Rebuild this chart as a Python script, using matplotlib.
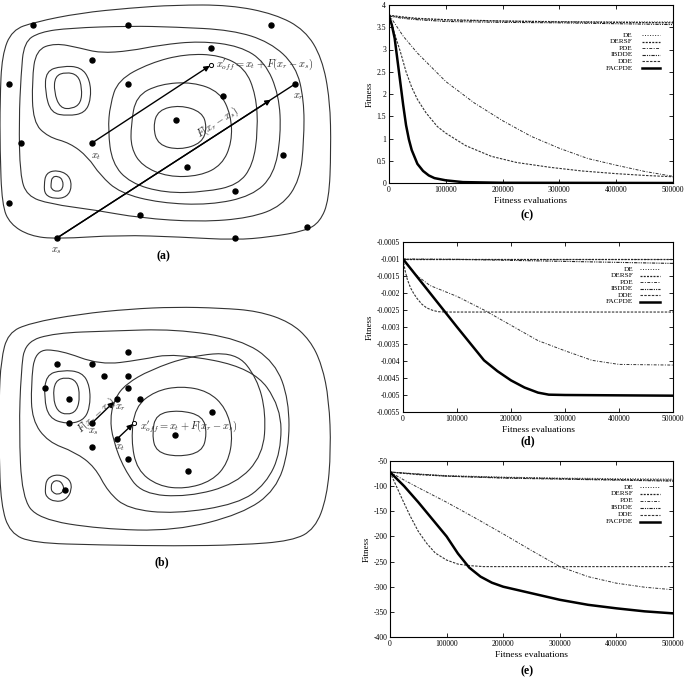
import numpy as np
import matplotlib
matplotlib.use('Agg')
import matplotlib.pyplot as plt
from matplotlib.path import Path
from matplotlib.patches import PathPatch

plt.rcParams['font.family'] = ['Liberation Serif', 'DejaVu Serif']
plt.rcParams['mathtext.fontset'] = 'cm'

# ---------------- chart data ----------------
legend_names = ['DE', 'DERSF', 'PDE', 'IBDDE', 'DDE', 'FACPDE']
x_ticks = [0, 100000, 200000, 300000, 400000, 500000]
x_ticklabels = ['0', '100000', '200000', '300000', '400000', '500000']

# (c)
c_yticks = [0, 0.5, 1, 1.5, 2, 2.5, 3, 3.5, 4]
c_yticklabels = ['0', '0.5', '1', '1.5', '2', '2.5', '3', '3.5', '4']
c_x_flat = [0, 25000, 50000, 100000, 200000, 300000, 400000, 500000]
c_de = [3.76, 3.72, 3.69, 3.66, 3.64, 3.63, 3.62, 3.62]
c_dersf = [3.77, 3.73, 3.70, 3.67, 3.64, 3.62, 3.61, 3.60]
c_ibdde = [3.75, 3.70, 3.67, 3.63, 3.61, 3.60, 3.58, 3.56]
c_x_pde = [0, 25000, 50000, 100000, 150000, 200000, 250000, 300000, 350000, 400000, 450000, 500000]
c_pde = [3.78, 3.30, 2.92, 2.28, 1.80, 1.40, 1.05, 0.78, 0.55, 0.40, 0.26, 0.15]
c_x_dde = [0, 10000, 20000, 30000, 40000, 50000, 65000, 85000, 100000, 135000, 180000,
           225000, 285000, 340000, 400000, 450000, 500000]
c_dde = [3.75, 3.35, 2.95, 2.50, 2.15, 1.88, 1.58, 1.27, 1.12, 0.84, 0.60,
         0.46, 0.35, 0.27, 0.21, 0.17, 0.14]
c_x_fac = [0, 5000, 10000, 15000, 20000, 25000, 30000, 35000, 40000, 50000, 60000,
           70000, 80000, 100000, 130000, 200000, 500000]
c_fac = [3.75, 3.55, 3.25, 2.75, 2.25, 1.75, 1.30, 0.98, 0.74, 0.43, 0.27,
         0.17, 0.11, 0.06, 0.02, 0.005, 0.0]

# (d)
d_yticks = [-0.0005, -0.001, -0.0015, -0.002, -0.0025, -0.003, -0.0035, -0.004, -0.0045, -0.005, -0.0055]
d_yticklabels = ['-0.0005', '-0.001', '-0.0015', '-0.002', '-0.0025', '-0.003',
                 '-0.0035', '-0.004', '-0.0045', '-0.005', '-0.0055']
d_x_flat = [0, 100000, 200000, 300000, 400000, 500000]
d_de = [-0.001, -0.001, -0.001, -0.001, -0.001, -0.001]
d_dersf = [-0.001, -0.001, -0.001, -0.001, -0.001, -0.001]
d_ibdde = [-0.001, -0.00101, -0.00104, -0.00107, -0.0011, -0.00113]
d_x_pde = [0, 10000, 25000, 50000, 100000, 150000, 200000, 250000, 300000, 350000, 400000, 500000]
d_pde = [-0.001, -0.0012, -0.00148, -0.00178, -0.0021, -0.0025, -0.00295, -0.0034,
         -0.0037, -0.00398, -0.0041, -0.00412]
d_x_dde = [0, 4000, 8000, 14000, 20000, 26000, 35000, 44000, 55000, 65000, 80000, 500000]
d_dde = [-0.001, -0.00135, -0.0016, -0.00185, -0.00202, -0.00216, -0.00233, -0.00244,
         -0.00251, -0.00255, -0.00256, -0.00256]
d_x_fac = [0, 50000, 100000, 150000, 175000, 200000, 225000, 250000, 270000, 300000, 500000]
d_fac = [-0.001, -0.002, -0.003, -0.00398, -0.0043, -0.00457, -0.00478, -0.00493,
         -0.00499, -0.005, -0.00502]

# (e)
e_yticks = [-50, -100, -150, -200, -250, -300, -350, -400]
e_yticklabels = ['-50', '-100', '-150', '-200', '-250', '-300', '-350', '-400']
e_x_flat = [0, 50000, 100000, 200000, 300000, 400000, 500000]
e_de = [-72, -76, -79, -82, -84, -85, -86]
e_dersf = [-72, -77, -80, -83, -85, -87, -88]
e_ibdde = [-72, -76, -80, -84, -86, -88, -90]
e_x_pde = [0, 25000, 50000, 100000, 150000, 200000, 250000, 300000, 350000, 400000, 450000, 500000]
e_pde = [-72, -88, -103, -132, -163, -195, -228, -260, -280, -293, -301, -306]
e_x_dde = [0, 10000, 20000, 35000, 50000, 65000, 80000, 100000, 120000, 140000, 165000, 200000, 500000]
e_dde = [-72, -97, -122, -158, -190, -214, -233, -247, -255, -258, -260, -260, -260]
e_x_fac = [0, 25000, 50000, 75000, 100000, 120000, 140000, 160000, 180000, 200000,
           250000, 300000, 350000, 400000, 450000, 500000]
e_fac = [-72, -100, -132, -166, -200, -234, -262, -280, -292, -300,
         -313, -326, -336, -343, -349, -353]

# ---------------- diagram data (pixel coords of the page) ----------------
a_contours = [
    [(2, 55), (12, 30), (35, 22), (80, 13), (130, 8), (175, 5), (230, 5), (275, 14), (305, 30),
     (322, 58), (330, 100), (331, 150), (329, 200), (320, 222), (305, 231), (270, 237), (235, 240),
     (180, 237), (120, 235), (57, 239), (30, 236), (10, 224), (2, 205), (0, 150), (0, 100)],
    [(21, 75), (24, 42), (40, 32), (70, 28), (130, 26), (175, 27), (232, 30), (270, 42), (296, 66),
     (304, 100), (304, 140), (300, 180), (282, 206), (250, 218), (200, 222), (140, 218), (95, 210),
     (50, 204), (27, 196), (20, 175), (19, 120)],
    [(32, 80), (36, 50), (55, 43), (80, 48), (100, 53), (130, 51), (160, 45), (200, 41), (240, 46),
     (265, 62), (279, 95), (281, 135), (274, 175), (252, 196), (210, 205), (160, 203), (120, 193),
     (100, 175), (88, 157), (70, 143), (48, 137), (33, 122)],
    [(110, 105), (118, 80), (150, 63), (185, 54), (220, 55), (245, 68), (256, 95), (258, 130),
     (253, 165), (238, 185), (205, 192), (165, 193), (130, 183), (112, 163), (108, 130)],
    [(131, 125), (136, 96), (160, 84), (193, 82), (220, 92), (231, 115), (232, 142), (222, 165),
     (200, 176), (168, 177), (142, 166), (131, 148)],
    [(153, 127), (158, 110), (180, 105), (202, 112), (207, 127), (202, 143), (180, 150), (158, 145)],
    [(45, 92), (46, 71), (62, 66), (81, 67), (90, 80), (91, 99), (85, 113), (68, 116), (51, 113)],
    [(54, 92), (55, 76), (66, 72), (78, 75), (82, 88), (81, 103), (72, 109), (60, 108)],
    [(44, 185), (46, 173), (57, 170), (69, 175), (72, 187), (67, 197), (55, 199), (45, 195)],
    [(51, 184), (52, 177), (58, 176), (63, 180), (63, 189), (57, 192), (51, 189)],
]
a_dots_x = [33, 128, 271, 211, 92, 9, 128, 295, 223, 176, 21, 92, 283, 187, 235, 9, 140, 307, 57, 235]
a_dots_y = [25, 25, 25, 48, 60, 84, 84, 84, 96, 120, 143, 143, 155, 167, 191, 203, 215, 227, 238, 238]
a_xt, a_xs, a_xr, a_xoff, a_head = (92, 143), (57, 238), (295, 84), (211, 65), (272, 99)

b_contours = [
    [(1, 360), (8, 333), (30, 323), (80, 314), (130, 309), (175, 307), (220, 308), (258, 311),
     (290, 322), (310, 340), (322, 365), (329, 400), (331, 450), (327, 497), (315, 529), (292, 541),
     (240, 545), (175, 546), (100, 545), (33, 543), (10, 533), (1, 505), (-1, 450), (-1, 400)],
    [(21, 372), (25, 342), (55, 333), (110, 331), (175, 329), (240, 339), (275, 362), (289, 400),
     (289, 450), (276, 490), (242, 514), (175, 531), (100, 529), (38, 519), (22, 497), (19, 430)],
    [(31, 385), (35, 350), (60, 350), (100, 365), (140, 360), (175, 353), (253, 368), (281, 407),
     (281, 452), (266, 484), (238, 504), (175, 514), (128, 509), (108, 492), (95, 467), (75, 452),
     (48, 442), (32, 420)],
    [(115, 398), (126, 384), (150, 370), (190, 356), (236, 352), (257, 378), (266, 413), (263, 455),
     (236, 484), (188, 497), (142, 494), (124, 469), (113, 440), (110, 418)],
    [(131, 440), (135, 407), (155, 391), (181, 386), (208, 391), (226, 408), (233, 435), (228, 463),
     (212, 481), (185, 489), (158, 486), (137, 470)],
    [(152, 434), (156, 414), (179, 410), (203, 416), (207, 434), (202, 452), (178, 457), (156, 452)],
    [(44, 398), (46, 375), (62, 370), (82, 372), (90, 386), (90, 408), (83, 421), (66, 424), (49, 418)],
    [(53, 397), (55, 381), (66, 377), (77, 381), (80, 396), (77, 411), (67, 415), (57, 411)],
    [(45, 489), (47, 478), (58, 474), (70, 479), (72, 490), (66, 500), (55, 502), (46, 497)],
    [(51, 488), (52, 482), (58, 480), (63, 484), (64, 491), (58, 495), (52, 492)],
]
b_dots_x = [128, 57, 92, 104, 128, 45, 128, 69, 117, 140, 69, 92, 117, 92, 128, 65, 175, 212, 188]
b_dots_y = [352, 364, 364, 376, 376, 388, 388, 399, 399, 399, 423, 423, 439, 447, 459, 490, 435, 412, 471]
b_xt, b_xs, b_xr, b_xoff = (117, 439), (92, 423), (117, 399), (134, 423)

W, H = 685, 677


def closed_curve(pts):
    pts = np.asarray(pts, float)
    mids = (pts + np.roll(pts, -1, axis=0)) / 2
    verts = [mids[-1]]
    codes = [Path.MOVETO]
    for p, m in zip(pts, mids):
        verts += [p, m]
        codes += [Path.CURVE3, Path.CURVE3]
    return Path(verts, codes)


def px_box(left, top, right, bottom):
    return [left / W, 1 - bottom / H, (right - left) / W, (bottom - top) / H]


fig = plt.figure(figsize=(6.85, 6.77), dpi=100)

# page overlay for the two diagrams and panel letters
pg = fig.add_axes([0, 0, 1, 1])
pg.set_xlim(0, W)
pg.set_ylim(H, 0)
pg.axis('off')

for cont in a_contours + b_contours:
    pg.add_patch(PathPatch(closed_curve(cont), fc='none', ec='#333333', lw=0.8))

pg.plot(a_dots_x, a_dots_y, 'o', color='k', ms=3.6)
pg.plot(b_dots_x, b_dots_y, 'o', color='k', ms=3.6)
pg.plot(*a_xoff, 'o', mfc='white', mec='k', ms=3, mew=0.7)
pg.plot(*b_xoff, 'o', mfc='white', mec='k', ms=3, mew=0.7)

arw = dict(arrowstyle='-|>', color='k', lw=1.0, mutation_scale=8, shrinkA=0, shrinkB=1)
pg.annotate('', xy=a_xoff, xytext=a_xt, arrowprops=arw)
pg.plot([a_xs[0], a_xr[0]], [a_xs[1], a_xr[1]], color='k', lw=1.0)
pg.annotate('', xy=a_head, xytext=a_xs, arrowprops=arw)
pg.annotate('', xy=b_xr, xytext=b_xs, arrowprops=dict(arw, shrinkB=3))
pg.annotate('', xy=b_xoff, xytext=b_xt, arrowprops=arw)

mt = dict(fontsize=7.5, color='#222222')
pg.text(96, 157, r'$x_t$', ha='center', va='center', **mt)
pg.text(57, 251, r'$x_s$', ha='center', va='center', **mt)
pg.text(299, 97, r'$x_r$', ha='center', va='center', **mt)
pg.text(216, 65, r"$x^{\prime}_{off} = x_t + F(x_r - x_s)$", ha='left', va='center', **mt)
pg.text(218, 123, r'$F(x_r - x_s)$', ha='center', va='center', rotation=33, **mt)

pg.text(121, 408, r'$x_r$', ha='center', va='center', **mt)
pg.text(94, 432, r'$x_s$', ha='center', va='center', **mt)
pg.text(120, 448, r'$x_t$', ha='center', va='center', **mt)
pg.text(140, 427, r"$x^{\prime}_{off} = x_t + F(x_r - x_s)$", ha='left', va='center', **mt)
pg.text(97, 415, r'$F(x_r - x_s)$', ha='center', va='center', rotation=42, **mt)

lab = dict(fontsize=8.5, fontweight='bold', ha='center', va='center')
pg.text(163, 256, '(a)', **lab)
pg.text(162, 562, '(b)', **lab)
pg.text(527, 215, '(c)', **lab)
pg.text(528, 441, '(d)', **lab)
pg.text(527, 671, '(e)', **lab)

styles = [
    dict(ls=(0, (1, 1.6)), lw=0.7, color='#333333'),
    dict(ls=(0, (1.6, 1)), lw=0.9, color='#222222'),
    dict(ls=(0, (3, 1.5, 1, 1.5)), lw=0.7, color='#333333'),
    dict(ls=(0, (3, 1, 1, 1, 1, 1)), lw=0.8, color='#222222'),
    dict(ls=(0, (2.2, 1.2)), lw=0.8, color='#333333'),
    dict(ls='-', lw=1.8, color='black'),
]


def chart(box, series, yticks, yticklabels, ylim, key):
    ax = fig.add_axes(px_box(*box))
    for (xs, ys), st in zip(series, styles):
        ax.plot(xs, ys, **st)
    ax.set_xlim(0, 500000)
    ax.set_ylim(*ylim)
    ax.set_xticks(x_ticks)
    ax.set_xticklabels(x_ticklabels)
    ax.set_yticks(yticks)
    ax.set_yticklabels(yticklabels)
    ax.tick_params(direction='in', top=True, right=True, length=3, width=0.6,
                   labelsize=5.5, pad=2)
    for s in ax.spines.values():
        s.set_linewidth(0.8)
    ax.set_xlabel('Fitness evaluations', fontsize=6.8, labelpad=2.5)
    ax.set_ylabel('Fitness', fontsize=6.5, labelpad=2)
    # gnuplot-style key: right-aligned names, sample line on the right
    text_x, h0, h1, y_top, y_bot = key
    for i, (name, st) in enumerate(zip(legend_names, styles)):
        y = y_top - i * (y_top - y_bot) / (len(legend_names) - 1)
        ax.plot([h0, h1], [y, y], transform=ax.transAxes, **st)
        ax.text(text_x, y, name, transform=ax.transAxes, ha='right', va='center', fontsize=5.2)
    return ax


chart((389, 5, 673, 183),
      [(c_x_flat, c_de), (c_x_flat, c_dersf), (c_x_pde, c_pde), (c_x_flat, c_ibdde),
       (c_x_dde, c_dde), (c_x_fac, c_fac)],
      c_yticks, c_yticklabels, (0, 4), (0.859, 0.891, 0.954, 0.831, 0.646))

chart((403, 242, 673, 412),
      [(d_x_flat, d_de), (d_x_flat, d_dersf), (d_x_pde, d_pde), (d_x_flat, d_ibdde),
       (d_x_dde, d_dde), (d_x_fac, d_fac)],
      d_yticks, d_yticklabels, (-0.0055, -0.0005), (0.852, 0.878, 0.952, 0.84, 0.65))

chart((390, 461, 673, 637),
      [(e_x_flat, e_de), (e_x_flat, e_dersf), (e_x_pde, e_pde), (e_x_flat, e_ibdde),
       (e_x_dde, e_dde), (e_x_fac, e_fac)],
      e_yticks, e_yticklabels, (-400, -50), (0.859, 0.883, 0.954, 0.852, 0.655))

fig.savefig('out.png', dpi=100)
